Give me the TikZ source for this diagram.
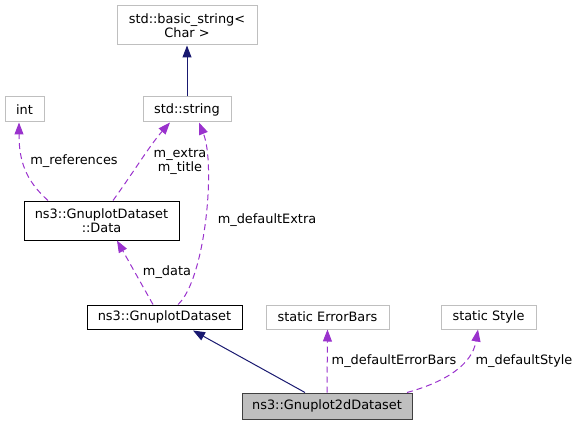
\documentclass[tikz,border=0pt]{standalone}
\usepackage{fontspec}
\setmainfont{DejaVu Sans}
\usetikzlibrary{arrows.meta}
\usepackage{xcolor}
\definecolor{inheritblue}{HTML}{191970}
\definecolor{usepurple}{HTML}{9A32CD}
\definecolor{extgray}{HTML}{BFBFBF}
\definecolor{curborder}{HTML}{404040}
\newcommand{\dgfont}{\fontsize{12.9}{14}\selectfont}

\begin{document}
\begin{tikzpicture}[x=1pt, y=-1pt]
        % ================= 样式定义 =================
        \tikzset{
            % 外部类型 (灰框)
            extbox/.style={draw=extgray, line width=1pt, fill=white, align=center, inner sep=0pt, font=\dgfont},
            % 已记录的类 (黑框)
            classbox/.style={draw=black, line width=1pt, fill=white, align=center, inner sep=0pt, font=\dgfont},
            % 当前类 (灰底)
            curbox/.style={draw=curborder, line width=1pt, fill=extgray, align=center, inner sep=0pt, font=\dgfont},
            % 继承边
            inherit_edge/.style={line width=1pt, inheritblue, -{Triangle[length=12pt, width=9pt]}},
            % 成员使用边
            use_edge/.style={line width=1pt, usepurple, dash pattern=on 6pt off 4pt, -{Triangle[length=12pt, width=9pt]}},
            % 边标签
            elabel/.style={font=\dgfont, inner sep=0pt, align=center, text=black}
        }
        \useasboundingbox (0, 0) rectangle (581, 425);

        % ================= 上部:字符串类型 =================
        \node[extbox, minimum width=140pt, minimum height=39pt] (bstr) at (187, 25.5) {std::basic\_string\textless\\Char \textgreater};
        \node[extbox, minimum width=88pt, minimum height=25pt] (str) at (187, 109.5) {std::string};
        \node[extbox, minimum width=39pt, minimum height=25pt] (intT) at (24.5, 109.5) {int};

        % ================= 中部:数据类 =================
        \node[classbox, minimum width=155pt, minimum height=39pt] (data) at (101.5, 220.5) {ns3::GnuplotDataset\\::Data};
        \node[classbox, minimum width=155pt, minimum height=24pt] (gds) at (164.5, 317) {ns3::GnuplotDataset};

        % ================= 下部:静态成员与当前类 =================
        \node[extbox, minimum width=123pt, minimum height=24pt] (ebars) at (327.5, 317) {static ErrorBars};
        \node[extbox, minimum width=95pt, minimum height=24pt] (styleT) at (488.5, 317) {static Style};
        \node[curbox, minimum width=170pt, minimum height=26pt] (g2d) at (327, 406) {ns3::Gnuplot2dDataset};

        % 继承关系
        \draw[inherit_edge] (str.north) -- (bstr.south);
        \draw[inherit_edge] (g2d.north -| 305, 0) -- (193, 330.5) coordinate (gdsTip);

        % Data 的成员
        \draw[use_edge] (data.north -| 48, 0) .. controls (25, 180) and (19, 160) .. (intT.south -| 19, 0);
        \draw[use_edge] (data.north -| 113, 0) .. controls (135, 170) and (150, 145) .. (str.south -| 170, 0);
        \node[elabel] (lref) at (74, 161) {m\_references};
        \node[elabel] (lext) at (180, 161) {m\_extra\\m\_title};

        % GnuplotDataset 的成员
        \draw[use_edge] (gds.north -| 178, 0) .. controls (205, 280) and (216, 165) .. (str.south -| 199, 0);
        \draw[use_edge] (gds.north -| 153, 0) -- (data.south -| 117, 0);
        \node[elabel] (ldefext) at (267, 220) {m\_defaultExtra};
        \node[elabel] (ldata) at (167, 272) {m\_data};

        % Gnuplot2dDataset 的成员
        \draw[use_edge] (g2d.north) -- (ebars.south);
        \draw[use_edge] (g2d.north -| 407, 0) .. controls (445, 382) and (472, 365) .. (styleT.south -| 478, 0);
        \node[elabel] (lerr) at (394, 361) {m\_defaultErrorBars};
        \node[elabel] (lsty) at (524, 361) {m\_defaultStyle};

\end{tikzpicture}
\end{document}
